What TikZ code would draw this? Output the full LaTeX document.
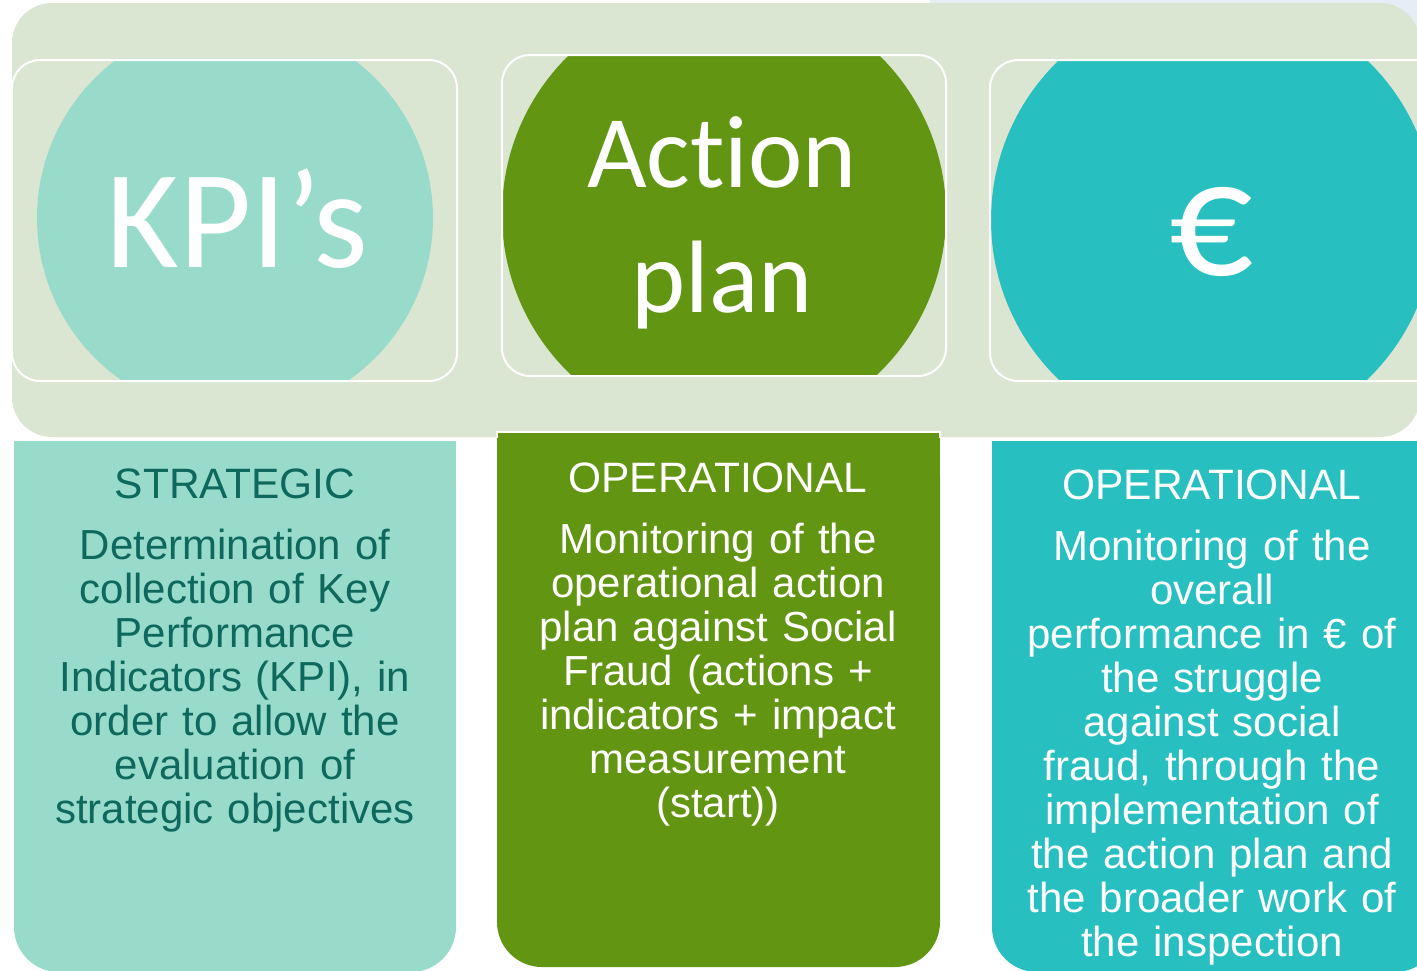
\documentclass[tikz,border=0pt]{standalone}
\usepackage{fontspec}
\setmainfont{Liberation Sans}
\newfontfamily\carlito[Ligatures=NoCommon]{Carlito}
\usepackage{tikz}
\usetikzlibrary{positioning, calc}
\definecolor{sage}{RGB}{218,229,210}
\definecolor{mint}{RGB}{152,219,202}
\definecolor{leaf}{RGB}{98,149,18}
\definecolor{lagoon}{RGB}{40,191,192}
\definecolor{deepteal}{RGB}{14,104,92}
\definecolor{haze}{RGB}{228,238,244}
\tikzstyle{frame} = [draw=white, line width=2pt, rounded corners=28]
\tikzstyle{badge} = [white, anchor=base, align=center, inner sep=0pt]
\tikzstyle{head} = [anchor=base, inner sep=0pt, font=\fontsize{42.5}{44}\selectfont]
\tikzstyle{body} = [anchor=base, inner sep=0pt, align=center, text width=440pt, font=\fontsize{42}{44}\selectfont]

\begin{document}
\begin{tikzpicture}[x=1pt, y=-1pt]
            \useasboundingbox (0,0) rectangle (1417,970);
            \fill[white] (0,0) rectangle (1417,970);
            \fill[haze] (930,0) rectangle (1417,40);
            % top band
            \fill[sage, rounded corners=40] (12,3) rectangle (1420,437);

            \begin{scope}
                \clip[rounded corners=28] (12,60) rectangle (457,381);
                \fill[mint] (235,218) circle (198);
            \end{scope}
            \begin{scope}
                \clip[rounded corners=28] (502,55) rectangle (946,376);
                \fill[leaf] (724,214) circle (222);
            \end{scope}
            \begin{scope}
                \clip[rounded corners=28] (990,60) rectangle (1445,381);
                \fill[lagoon] (1213,220) circle (222);
            \end{scope}
            \draw[frame] (12,60) rectangle (457,381);
            \draw[frame] (502,55) rectangle (946,376);
            \draw[frame] (990,60) rectangle (1445,381);

            \node[badge, font=\carlito\fontsize{140}{150}\selectfont] (kpi) at (237,267) {KPI’s};
            \node[badge, font=\carlito\fontsize{103}{125}\selectfont] (action) at (722,312) {Action\\plan};
            \node[badge, font=\carlito\fontsize{166}{170}\selectfont] (euro) at (1212,275) {€};

            % lower panels
            \fill[mint, rounded corners=45] (14,441) rectangle (456,972);
            \fill[mint] (14,441) rectangle (456,520);
            \fill[leaf, rounded corners=45] (497,432) rectangle (940,967);
            \fill[leaf] (497,432) rectangle (940,520);
            \draw[white, line width=1.5pt] (497,438) -- (497,432) -- (940,432) -- (940,438);
            \fill[lagoon, rounded corners=45] (992,441) rectangle (1440,972);
            \fill[lagoon] (992,441) rectangle (1440,520);

            \node[head, deepteal] (strat) at (235,498) {STRATEGIC};
            \node[body, deepteal] (strat-txt) at (235,559) {Determination of\\collection of Key\\Performance\\Indicators (KPI), in\\order to allow the\\evaluation of\\strategic objectives};

            \node[head, white] (oper-1) at (718,492) {OPERATIONAL};
            \node[body, white] (oper-1-txt) at (718,553) {Monitoring of the\\operational action\\plan against Social\\Fraud (actions +\\indicators + impact\\measurement\\(start))};

            \node[head, white] (oper-2) at (1212,499) {OPERATIONAL};
            \node[body, white] (oper-2-txt) at (1212,560) {Monitoring of the\\overall\\performance in € of\\the struggle\\against social\\fraud, through the\\implementation of\\the action plan and\\the broader work of\\the inspection};
        \end{tikzpicture}
\end{document}
